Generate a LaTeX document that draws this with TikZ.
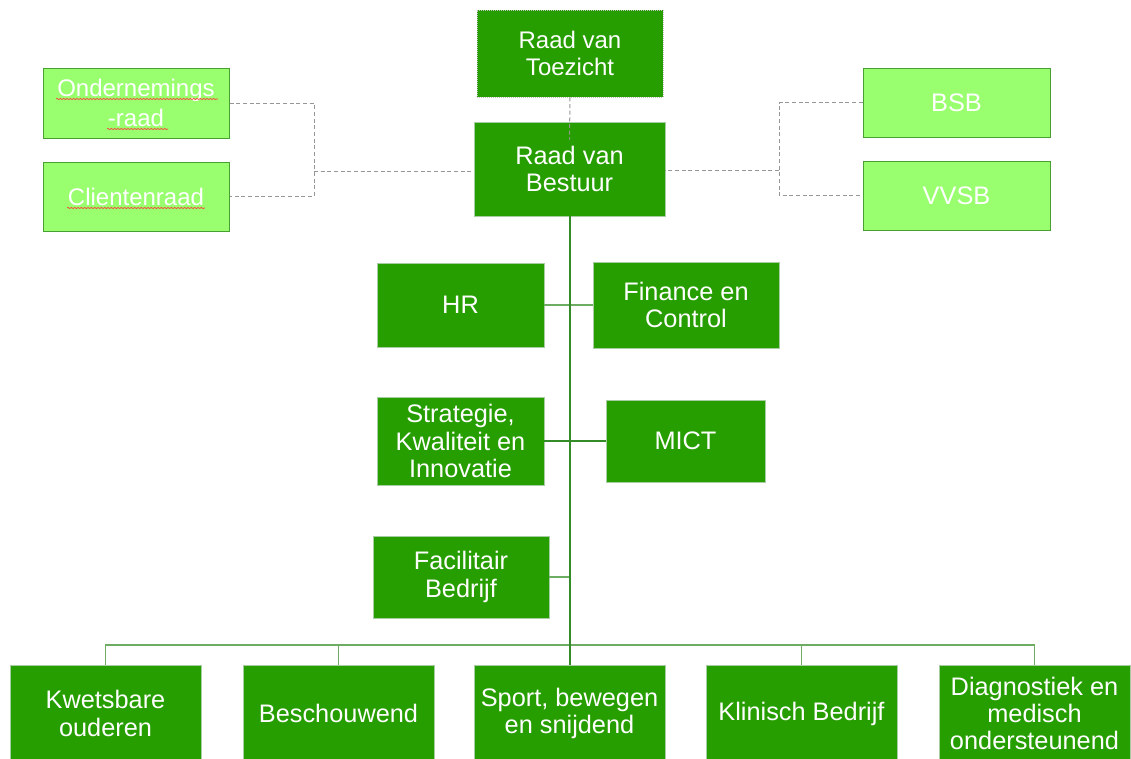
\documentclass[tikz,border=0pt]{standalone}
\usepackage{fontspec}
\setmainfont{Liberation Sans}
\usetikzlibrary{decorations.pathmorphing}

\definecolor{donkergroen}{RGB}{38,158,0}
\definecolor{lichtgroen}{RGB}{153,255,110}
\definecolor{lichtrand}{RGB}{72,160,50}
\definecolor{stamgroen}{RGB}{52,140,40}
\definecolor{takgroen}{RGB}{110,172,100}
\definecolor{stippelgrijs}{RGB}{150,150,150}

\begin{document}
\begin{tikzpicture}[x=0.75pt, y=-0.75pt,
      every node/.style={font=\fontsize{19}{20.5}\selectfont, text=white, align=center, inner sep=0pt},
      maat/.style 2 args={minimum width=#1*0.75pt, minimum height=#2*0.75pt},
      blok/.style={rectangle, fill=donkergroen, draw=takgroen!60, line width=0.5pt},
      raad/.style={rectangle, fill=lichtgroen, draw=lichtrand, line width=0.75pt},
      stam/.style={draw=stamgroen, line width=1.5pt},
      tak/.style={draw=takgroen, line width=1.5pt},
      bus/.style={draw=takgroen, line width=1.2pt},
      stippel/.style={draw=stippelgrijs, line width=0.75pt, dash pattern=on 3pt off 2pt},
      golf/.style={draw=red!75, line width=0.5pt, decorate, decoration={snake, amplitude=0.5pt, segment length=2.5pt}}
    ]
    \fill[white] (0,0) rectangle (1131,758);
    \useasboundingbox (0,0) rectangle (1131,758);

    % bestuur en toezicht
    \node[blok, maat={186}{87}, draw=stippelgrijs!60, densely dotted, font=\fontsize{18}{20}\selectfont] (toezicht) at (570,53.5) {Raad van\\Toezicht};
    \node[blok, maat={191}{94}] (bestuur) at (569.5,169) {Raad van\\Bestuur};

    % raden links en rechts
    \node[raad, maat={186}{70}, font=\fontsize{18}{23}\selectfont] (or) at (136,103) {Ondernemings\\-raad};
    \node[raad, maat={186}{69}, font=\fontsize{18}{20}\selectfont] (cr) at (136,196.5) {Clientenraad};
    \node[raad, maat={187}{69}] (bsb) at (956.5,102.5) {BSB};
    \node[raad, maat={187}{69}] (vvsb) at (956.5,195.5) {VVSB};

    % staf
    \node[blok, maat={167}{84}] (hr) at (460.5,305) {HR};
    \node[blok, maat={186}{86}] (fc) at (686,305) {Finance en\\Control};
    \node[blok, maat={167}{88}] (ski) at (460.5,441) {Strategie,\\Kwaliteit en\\Innovatie};
    \node[blok, maat={159}{82}] (mict) at (685.5,441) {MICT};
    \node[blok, maat={176}{82}] (fb) at (461,577) {Facilitair\\Bedrijf};

    % bedrijven
    \node[blok, maat={191}{97}] (b1) at (105.5,713.5) {Kwetsbare\\ouderen};
    \node[blok, maat={191}{97}] (b2) at (338.5,713.5) {Beschouwend};
    \node[blok, maat={191}{97}] (b3) at (569.5,713.5) {Sport, bewegen\\en snijdend};
    \node[blok, maat={191}{97}] (b4) at (801.5,713.5) {Klinisch Bedrijf};
    \node[blok, maat={191}{97}] (b5) at (1034.5,713.5) {Diagnostiek en\\medisch\\ondersteunend};

    \coordinate (ml) at (314,171);
    \coordinate (mr) at (779,170);
    \coordinate (bus) at (569.5,645);

    % stippellijnen
    \draw[stippel] (or.east) -| (ml) |- (cr.east);
    \draw[stippel] (ml) -- (ml -| bestuur.west);
    \draw[stippel] (bsb.west) -| (mr) |- (vvsb.west);
    \draw[stippel] (mr) -- (mr -| bestuur.east);
    \draw[stippel] (toezicht.south) -- ([yshift=-13.5pt]bestuur.north);

    % lijnen
    \draw[tak] (hr) -- (fc);
    \draw[stam] (ski) -- (mict);
    \draw[tak] (fb.east) -- (fb.east -| bestuur.south);
    \draw[bus] (b1.north) -- (b1.north |- bus) -- (b5.north |- bus) -- (b5.north);
    \draw[bus] (b2.north) -- (b2.north |- bus);
    \draw[bus] (b4.north) -- (b4.north |- bus);
    \draw[stam] (bestuur.south) -- (b3.north);

    % spellingslijntjes
    \draw[golf] (56,99) -- (218,99);
    \draw[golf] (107,129) -- (168,129);
    \draw[golf] (67,208) -- (205,208);
\end{tikzpicture}
\end{document}
